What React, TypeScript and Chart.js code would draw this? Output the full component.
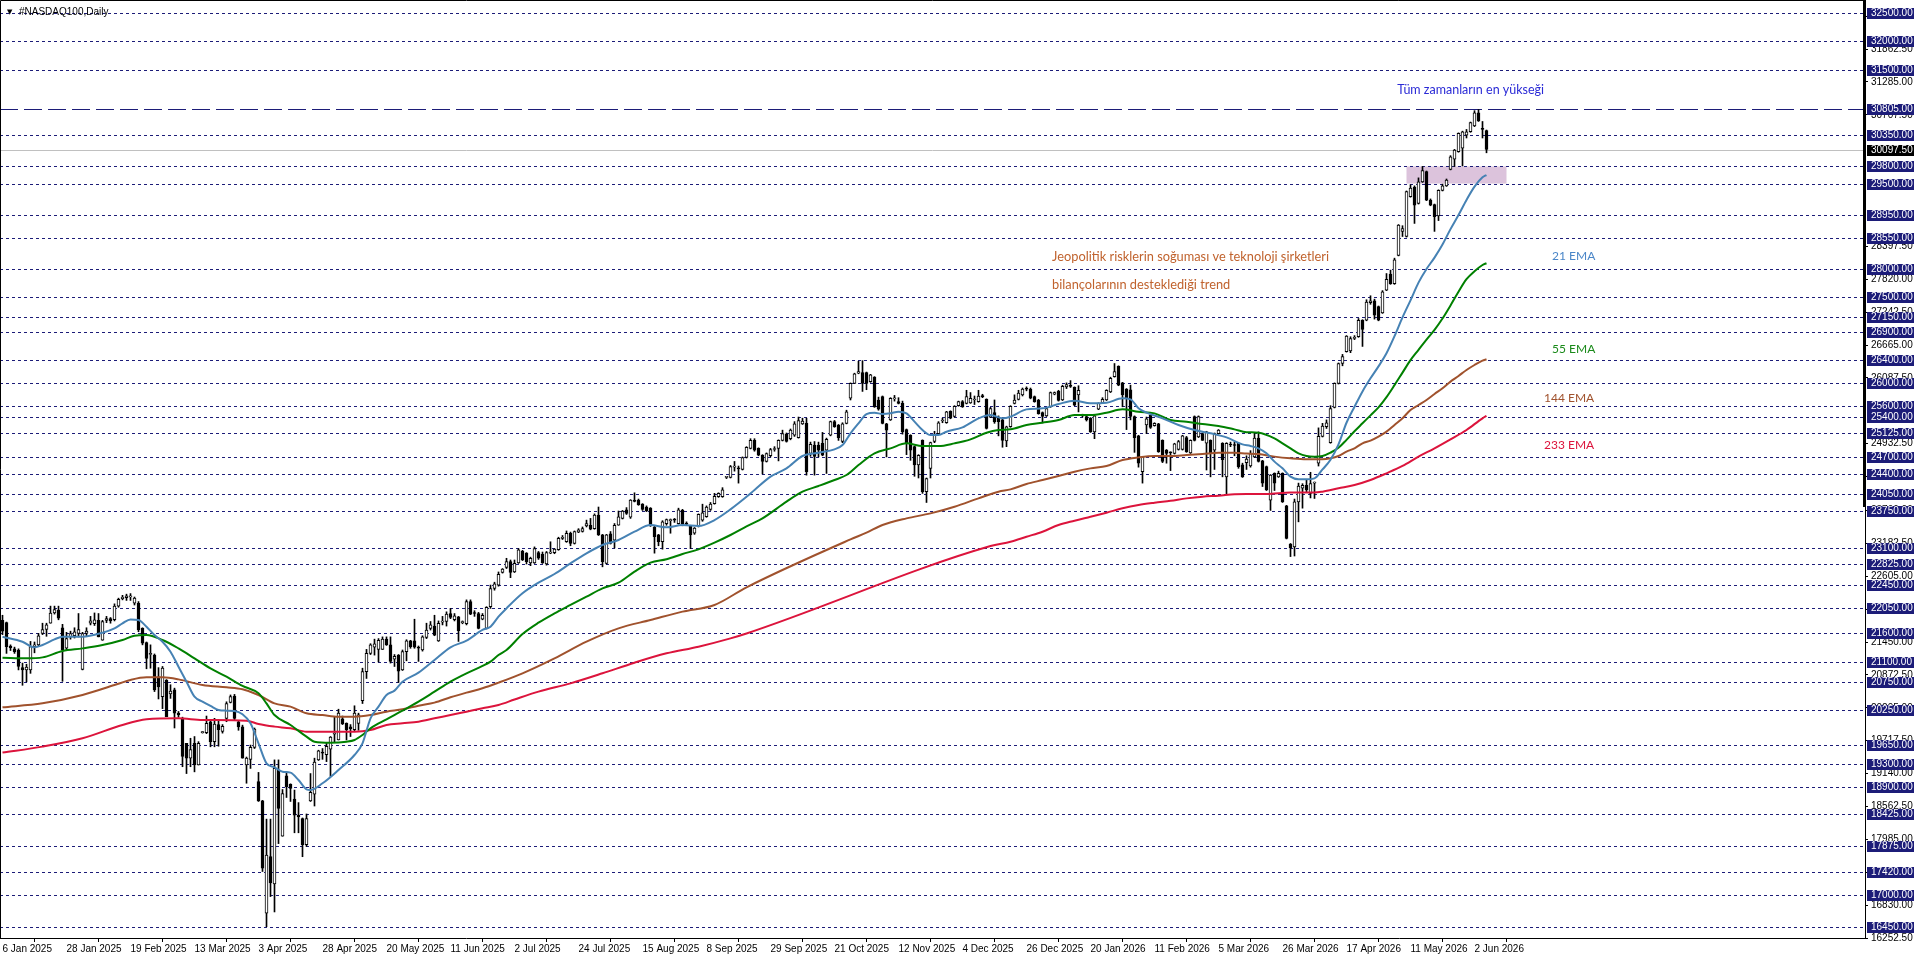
import React, { useEffect, useRef } from "react";
import { Chart, registerables } from "chart.js";

Chart.register(...registerables);

// ---------------- data ----------------
const dateLabels = [
  "6 Jan 2025", "28 Jan 2025", "19 Feb 2025", "13 Mar 2025", "3 Apr 2025", "28 Apr 2025",
  "20 May 2025", "11 Jun 2025", "2 Jul 2025", "24 Jul 2025", "15 Aug 2025", "8 Sep 2025",
  "29 Sep 2025", "21 Oct 2025", "12 Nov 2025", "4 Dec 2025", "26 Dec 2025", "20 Jan 2026",
  "11 Feb 2026", "5 Mar 2026", "26 Mar 2026", "17 Apr 2026", "11 May 2026", "2 Jun 2026",
];
const dateLabelBars = [0, 16, 32, 48, 64, 80, 96, 112, 128, 144, 160, 176, 192, 208, 224, 240, 256, 272, 288, 304, 320, 336, 352, 368];

const priceTicks = [
  16252.5, 16830, 17407.5, 17985, 18562.5, 19140, 19717.5, 20295, 20872.5, 21450, 22027.5,
  22605, 23182.5, 23760, 24355, 24932.5, 26087.5, 26665, 27242.5, 27820, 28397.5,
  30707.5, 31285, 31862.5, 32440,
];

const levels = [
  32500, 32000, 31500, 30350, 29800, 29500, 28950, 28550, 28000, 27500, 27150, 26900, 26400,
  26000, 25600, 25400, 25125, 24700, 24400, 24050, 23750, 23100, 22825, 22450, 22050, 21600,
  21100, 20750, 20250, 19650, 19300, 18900, 18425, 17875, 17420, 17000, 16450,
];
const athLevel = 30805;
const currentPrice = 30097.5;
const zoneBars = [351, 376];
const zonePrices = [29500, 29800];

const opens = [
  21830,21790,21380,21330,21310,21000,20960,20960,21370,21400,
  21600,21670,21780,21960,22010,21700,21340,21540,21560,21600,
  20970,21600,21780,21770,21830,21480,21830,21860,21840,22080,
  22210,22230,22240,22130,22130,21690,21440,21230,21220,20840,
  20490,20780,20540,20610,20200,20110,19670,19410,19670,19290,
  19860,19860,20050,19700,20000,19880,20110,20390,20500,20050,
  19960,19290,19390,19600,19000,18660,16690,17680,17200,19200,
  18040,19100,18950,18690,18410,18350,17890,18660,18780,19380,
  19510,19470,19570,19830,19730,20100,20020,19960,19910,20020,
  20420,20930,21250,21360,21320,21320,21500,21400,21150,21220,
  20960,21280,21470,21470,21360,21310,21530,21690,21730,21470,
  21800,21810,21950,21840,21890,21790,21770,22160,21960,21950,
  21850,21690,22070,22390,22450,22670,22760,22860,22680,22840,
  23040,23010,22840,22840,23020,22990,22820,23010,23020,23070,
  23270,23210,23360,23180,23380,23390,23490,23500,23440,23680,
  23330,22830,23350,23240,23500,23620,23770,23640,23940,23940,
  23870,23820,23800,23470,23330,23210,23530,23580,23610,23530,
  23760,23530,23490,23360,23490,23590,23650,23780,23880,24000,
  24000,24340,24340,24520,24500,24480,24690,24850,24990,24850,
  24730,24620,24720,24830,24850,24990,25100,25020,25080,25040,
  25280,25290,24760,24910,24910,24940,24820,25080,25320,25260,
  24970,25290,25730,25990,26170,26180,26180,26020,26100,25700,
  25760,25280,25350,25720,25670,25640,25180,25080,24880,24560,
  24990,24090,24500,24970,25110,25330,25300,25500,25410,25600,
  25670,25640,25650,25700,25670,25770,25710,25400,25480,25400,
  25350,24980,25230,25640,25710,25790,25900,25890,25760,25700,
  25480,25420,25580,25800,25850,25700,25930,25950,25920,25790,
  25420,25410,25380,25140,25540,25650,25700,25840,26110,26290,
  26000,25890,25880,25410,25070,24440,25260,25430,25250,25280,
  24990,24820,24780,24760,24830,24830,25040,24770,25410,25050,
  25110,24940,24990,24820,25110,24940,24350,24920,24910,24940,
  24560,24600,24540,24700,25030,24630,24530,23940,24410,24350,
  24410,23840,23170,23120,23910,24150,24200,24060,24240,24590,
  25060,25230,24950,25570,25990,26340,26550,26560,26780,26810,
  27100,27100,27410,27440,27340,27230,27630,27910,27740,28240,
  28660,28570,29270,29440,29150,29530,29710,29210,29130,28930,
  29380,29460,29750,29930,30060,30120,30350,30410,30510,30740,
  30470,30430,
];
const highs = [
  21920,21800,21400,21360,21330,21080,21060,21460,21450,21600,
  21780,21780,22080,22080,22080,21760,21620,21640,21700,21950,
  21620,21700,21900,21960,21950,21830,21900,21880,22120,22220,
  22270,22290,22300,22240,22160,21700,21450,21400,21240,21000,
  21020,20790,20700,20640,20230,20130,19670,19760,19790,19700,
  19880,20150,20080,20110,20090,20000,20400,20520,20530,20060,
  19990,19430,19640,19940,19160,18670,18340,18340,19380,19380,
  18860,19170,18960,18850,18630,18360,18430,19140,19410,19550,
  19580,19670,19790,20140,20270,20150,20030,20000,20330,20200,
  20990,21320,21420,21500,21510,21540,21540,21540,21230,21230,
  21310,21490,21480,21850,21380,21560,21780,21810,21920,21820,
  21900,21980,22040,21950,21900,21820,22190,22190,22000,21970,
  21950,22070,22450,22500,22680,22740,22920,22890,22890,23090,
  23060,23020,22940,23120,23040,23030,23040,23210,23090,23290,
  23320,23400,23380,23400,23440,23470,23590,23620,23700,23820,
  23340,23340,23390,23530,23750,23760,23810,23950,24070,23960,
  23880,23840,23810,23480,23340,23580,23610,23610,23620,23800,
  23780,23560,23500,23460,23700,23870,23840,23900,24060,24070,
  24160,24350,24550,24620,24540,24700,24880,25020,25020,24860,
  24740,24770,24850,24880,25000,25170,25120,25190,25320,25400,
  25380,25380,24960,24970,24960,25130,25030,25330,25340,25270,
  25300,25520,26000,26170,26380,26390,26190,26150,26110,25750,
  25770,25290,25740,25780,25740,25680,25190,25090,24890,24740,
  25000,24330,24960,25150,25320,25380,25500,25510,25600,25680,
  25690,25870,25830,25770,25870,25800,25720,25570,25700,25420,
  25380,25240,25600,25790,25870,25910,25930,25910,25770,25710,
  25490,25560,25840,25840,25870,25960,26000,26040,25930,25950,
  25450,25420,25390,25430,25650,25740,25880,26100,26340,26300,
  26010,25900,25960,25420,25080,24710,25400,25440,25300,25290,
  25000,24830,24790,24940,24990,25080,25060,25000,25420,25420,
  25120,25150,25000,25120,25180,24950,24950,24960,24960,24950,
  24590,24720,24810,25130,25140,24640,24540,24390,24420,24450,
  24420,23850,23180,23960,24240,24230,24300,24430,24260,25210,
  25290,25350,25600,26000,26350,26500,26830,26810,26830,27130,
  27110,27460,27530,27470,27350,27620,27920,27980,28190,28780,
  28760,29370,29480,29460,29600,29800,29720,29230,29140,29390,
  29490,29580,29990,30100,30390,30420,30450,30580,30780,30800,
  30590,30440,
];
const lows = [
  21580,21250,21300,21250,20960,20690,20750,20900,21260,21380,
  21580,21550,21780,21940,21840,20760,21310,21500,21520,21540,
  20960,21560,21750,21740,21540,21480,21790,21780,21820,22060,
  22190,22180,22180,22100,21630,21400,20980,20990,20580,20450,
  20280,20140,20460,19940,20130,19260,19140,19260,19170,19290,
  19850,19840,19610,19610,19620,19850,20050,20380,20080,19900,
  19410,18970,19230,19580,18650,17420,16450,16980,16710,17910,
  18040,18720,18650,18100,18100,17680,17860,18650,18570,19370,
  19390,19350,19090,19700,19730,20000,19730,19790,19880,19900,
  20370,20810,21230,21220,21100,21320,21390,21080,21020,20740,
  20950,21120,21340,21340,21110,21290,21510,21660,21560,21460,
  21750,21730,21860,21820,21460,21770,21750,21930,21900,21680,
  21840,21680,22040,22360,22430,22660,22740,22580,22670,22830,
  22880,22820,22790,22830,22900,22830,22800,23000,23000,23060,
  23250,23200,23140,23170,23370,23380,23470,23420,23430,23320,
  22770,22820,23170,23100,23500,23610,23690,23620,23910,23850,
  23760,23740,23480,23010,23140,23080,23500,23360,23550,23520,
  23490,23500,23090,23340,23470,23570,23640,23760,23870,23990,
  23990,24320,24330,24450,24240,24470,24680,24840,24800,24720,
  24400,24610,24700,24800,24630,24980,24960,25000,25060,25030,
  25270,24380,24710,24380,24700,24720,24410,25070,25220,24990,
  24950,25280,25700,25990,26160,25850,25880,26010,25570,25520,
  25280,24700,25340,25680,25630,25100,24740,24640,24360,24330,
  24060,23900,24330,24950,25100,25300,25290,25370,25400,25590,
  25570,25630,25640,25620,25660,25740,25190,25390,25290,25070,
  24870,24880,25220,25630,25700,25770,25860,25720,25660,25450,
  25300,25410,25570,25790,25680,25690,25900,25920,25600,25490,
  25400,25330,25130,25020,25530,25640,25690,25830,26100,25950,
  25580,25180,25350,24780,24520,24240,25110,25200,25240,24780,
  24600,24590,24460,24750,24820,24820,24780,24760,24980,25040,
  24990,24470,24350,24480,25100,24350,24040,24880,24720,24500,
  24340,24480,24520,24690,24610,24180,24110,23760,24110,24340,
  23900,23260,22950,22960,23560,23800,24080,23980,23970,24540,
  25050,25200,24940,25560,25980,26300,26540,26530,26760,26800,
  26640,27090,27380,27120,27090,27220,27620,27730,27730,28230,
  28570,28560,29260,28800,29140,29520,29200,29110,28660,28850,
  29370,29450,29740,29800,30050,29810,30300,30400,30500,30590,
  30300,30040,
];
const closes = [
  21640,21370,21350,21280,21020,20960,21010,21370,21400,21560,
  21670,21750,21960,22020,21870,21310,21510,21600,21630,21670,
  21600,21640,21820,21840,21540,21810,21860,21820,22080,22200,
  22240,22260,22260,22220,21660,21430,21160,21250,20610,20660,
  20990,20140,20590,20200,20170,19440,19410,19560,19290,19670,
  19870,20020,19700,20010,19910,19970,20370,20490,20110,19960,
  19410,19410,19600,19920,18660,17480,17710,17220,19230,18530,
  18790,18910,18880,18410,18380,17890,18350,18810,19340,19540,
  19500,19620,19780,19840,20200,20010,19910,19930,20200,20170,
  20930,21250,21400,21420,21480,21500,21400,21110,21200,20940,
  21280,21470,21370,21360,21340,21540,21660,21750,21570,21780,
  21800,21940,21880,21910,21650,21800,22160,21940,21950,21690,
  21920,22060,22390,22470,22640,22730,22860,22670,22830,23070,
  22890,22860,22920,23090,22920,22840,23020,23020,23080,23270,
  23290,23360,23180,23390,23420,23440,23530,23430,23680,23330,
  22860,23330,23180,23500,23650,23750,23710,23940,23920,23860,
  23780,23750,23490,23300,23210,23560,23600,23600,23590,23770,
  23530,23520,23330,23450,23690,23720,23820,23870,24010,24060,
  24120,24340,24530,24540,24490,24690,24870,24990,24820,24730,
  24620,24760,24830,24840,24990,25110,24970,25170,25280,25340,
  25330,24440,24920,24710,24820,24730,25010,25320,25230,25040,
  25280,25490,25990,26160,26200,25990,25990,26140,25580,25540,
  25290,25170,25730,25730,25640,25140,24940,24820,24560,24730,
  24090,24320,24950,25090,25300,25340,25490,25380,25590,25670,
  25580,25760,25730,25700,25770,25760,25200,25550,25320,25320,
  24990,25230,25590,25700,25820,25890,25890,25730,25670,25460,
  25410,25550,25830,25830,25690,25940,25970,25940,25610,25870,
  25420,25350,25140,25420,25640,25710,25870,26080,26200,25960,
  25790,25730,25410,25040,24590,24700,25370,25220,25290,24790,
  24620,24760,24770,24930,24970,25070,24790,24990,24990,25410,
  24990,25140,24760,25110,25170,24650,24940,24910,24900,24530,
  24350,24660,24760,25030,24620,24240,24120,24380,24240,24410,
  23910,23270,23100,23910,24190,24200,24120,24230,24240,25060,
  25240,25300,25550,25990,26340,26460,26820,26780,26800,27100,
  26940,27420,27440,27190,27100,27600,27820,27740,28160,28770,
  28710,29360,29420,29120,29530,29730,29210,29120,28920,29380,
  29460,29560,29970,30090,30380,30410,30410,30570,30740,30600,
  30450,30097.5,
];

// EMA readings: [bar index, value]
const ema21: [number, number][] = [
  [0,21543],[5,21455],[8,21356],[10,21397],[13,21496],[15,21543],[20,21543],[25,21613],[28,21689],[30,21777],
  [32,21847],[34,21836],[36,21719],[38,21572],[40,21455],[42,21280],[44,21017],[46,20753],[48,20490],[50,20403],
  [52,20327],[54,20256],[56,20245],[58,20239],[60,20180],[62,20022],[64,19671],[66,19320],[68,19250],[70,19173],
  [72,19156],[74,19027],[76,18863],[77,18852],[80,18969],[84,19203],[88,19466],[90,19671],[92,20110],[94,20315],
  [96,20520],[98,20596],[100,20754],[104,20912],[108,21134],[112,21357],[116,21474],[120,21661],[122,21719],[124,21895],
  [126,22041],[130,22305],[134,22492],[138,22644],[142,22831],[146,23007],[150,23153],[154,23241],[158,23387],[162,23504],
  [166,23463],[170,23504],[174,23487],[178,23592],[182,23779],[186,24000],[188,24119],[192,24353],[196,24499],[200,24716],
  [204,24774],[208,24833],[210,24909],[212,25114],[214,25289],[216,25453],[218,25477],[220,25453],[222,25465],[224,25494],
  [226,25465],[228,25319],[230,25172],[232,25084],[234,25084],[236,25143],[240,25219],[244,25377],[247,25436],[250,25377],
  [252,25406],[256,25535],[260,25553],[264,25629],[268,25687],[272,25641],[276,25652],[280,25728],[282,25711],[284,25553],
  [286,25477],[290,25377],[294,25260],[298,25172],[302,25114],[306,25043],[310,24920],[312,24892],[314,24851],[316,24763],
  [318,24617],[320,24500],[322,24353],[324,24307],[326,24307],[328,24324],[330,24480],[332,24650],[334,24920],[336,25300],
  [338,25580],[340,25850],[342,26080],[344,26290],[346,26520],[348,26820],[350,27150],[352,27450],[354,27760],[356,28000],
  [358,28200],[360,28430],[362,28700],[364,28948],[366,29212],[368,29446],[370,29610],[371,29650],
];
const ema55: [number, number][] = [
  [0,21175],[6,21163],[10,21180],[15,21292],[20,21338],[25,21397],[30,21485],[33,21561],[36,21572],[40,21485],
  [44,21338],[48,21163],[52,20987],[56,20841],[60,20680],[64,20549],[66,20373],[68,20168],[72,19993],[76,19788],
  [78,19700],[82,19683],[86,19700],[88,19729],[90,19817],[92,19934],[96,20092],[100,20244],[104,20403],[108,20578],
  [112,20754],[116,20900],[120,21029],[122,21105],[124,21222],[126,21309],[130,21590],[134,21789],[138,21953],[142,22100],
  [146,22246],[150,22392],[154,22492],[158,22685],[162,22843],[166,22902],[170,22995],[174,23077],[178,23194],[182,23329],
  [186,23480],[190,23621],[196,23914],[200,24089],[204,24189],[208,24294],[211,24382],[214,24558],[218,24763],[222,24850],
  [226,24938],[230,24891],[234,24891],[238,24938],[242,25008],[246,25125],[249,25172],[252,25184],[256,25260],[260,25301],
  [264,25348],[268,25436],[272,25436],[276,25477],[280,25535],[284,25494],[288,25465],[292,25348],[296,25319],[300,25278],
  [304,25243],[308,25184],[311,25135],[314,25126],[318,25027],[320,24939],[322,24851],[324,24763],[326,24716],[328,24705],
  [330,24716],[332,24775],[334,24860],[336,25000],[338,25150],[340,25290],[342,25430],[344,25570],[346,25750],[348,25960],
  [350,26180],[352,26400],[354,26580],[356,26760],[358,26930],[360,27130],[362,27360],[364,27600],[366,27820],[368,27960],
  [370,28070],[371,28100],
];
const ema144: [number, number][] = [
  [0,20303],[10,20373],[20,20519],[28,20694],[32,20783],[36,20829],[40,20829],[44,20794],[50,20694],[56,20654],
  [60,20619],[64,20520],[68,20373],[72,20315],[76,20198],[80,20168],[84,20139],[88,20139],[92,20168],[96,20227],
  [100,20268],[104,20332],[108,20385],[112,20479],[116,20561],[120,20637],[124,20736],[130,20900],[138,21163],[146,21456],
  [154,21690],[162,21836],[170,21983],[178,22100],[186,22410],[212,23252],[216,23370],[220,23504],[226,23621],[232,23709],
  [238,23826],[244,23972],[249,24089],[252,24130],[256,24224],[260,24294],[264,24365],[268,24441],[272,24499],[276,24540],
  [280,24646],[284,24692],[288,24716],[292,24716],[296,24733],[300,24751],[304,24774],[308,24774],[311,24760],[314,24751],
  [318,24705],[322,24675],[326,24658],[330,24658],[332,24675],[334,24716],[336,24792],[338,24851],[340,24939],[342,24986],
  [344,25056],[346,25144],[348,25261],[350,25378],[352,25524],[354,25612],[356,25700],[358,25805],[360,25905],[362,26022],
  [364,26121],[366,26227],[368,26314],[370,26390],[371,26414],
];
const ema233: [number, number][] = [
  [0,19508],[10,19613],[20,19759],[30,19993],[36,20093],[44,20110],[50,20081],[61,20069],[64,20010],[68,19964],
  [72,19934],[76,19876],[80,19876],[88,19876],[92,19905],[96,19993],[100,20022],[104,20051],[108,20110],[112,20168],
  [116,20227],[120,20286],[124,20344],[128,20440],[134,20578],[142,20724],[150,20900],[158,21087],[166,21251],[174,21368],
  [182,21514],[186,21600],[247,23135],[252,23211],[256,23299],[260,23387],[264,23504],[268,23580],[272,23650],[276,23721],
  [280,23797],[284,23855],[288,23896],[292,23931],[296,23972],[300,24002],[304,24019],[308,24043],[311,24049],[316,24049],
  [322,24073],[328,24073],[330,24090],[334,24149],[338,24207],[342,24295],[346,24412],[350,24541],[354,24705],[358,24851],
  [362,25009],[366,25173],[370,25378],[371,25419],
];

const annotations = [
  { text: "Tüm zamanların en yükseği", bar: 348.7, price: 31150, color: "#2a2ad6", size: 12.5 },
  { text: "Jeopolitik risklerin soğuması ve teknoloji şirketleri", bar: 262.4, price: 28210, color: "#c0622d", size: 12.8 },
  { text: "bilançolarının desteklediği trend", bar: 262.4, price: 27720, color: "#c0622d", size: 12.8 },
  { text: "21 EMA", bar: 387.4, price: 28230, color: "#4a86c8", size: 12 },
  { text: "55 EMA", bar: 387.4, price: 26590, color: "#1a8a1a", size: 12 },
  { text: "144 EMA", bar: 385.4, price: 25740, color: "#a0522d", size: 12 },
  { text: "233 EMA", bar: 385.4, price: 24900, color: "#dc143c", size: 12 },
];

// ---------------- styling ----------------
const W = 1916;
const H = 963;
const LEVEL_COLOR = "#1c1c78";
const AXIS_FONT = "10px 'Liberation Sans', Arial, sans-serif";

const overlayPlugin = {
  id: "mtOverlay",
  beforeDatasetsDraw(chart: any) {
    const { ctx, chartArea: a, scales } = chart;
    const x = scales.x;
    const y = scales.y;
    ctx.save();
    ctx.beginPath();
    ctx.rect(a.left, a.top, a.right - a.left, a.bottom - a.top);
    ctx.clip();
    const zx1 = x.getPixelForValue(zoneBars[0]);
    const zx2 = x.getPixelForValue(zoneBars[1]);
    const zy1 = y.getPixelForValue(zonePrices[1]);
    const zy2 = y.getPixelForValue(zonePrices[0]);
    ctx.fillStyle = "#dcc3dc";
    ctx.fillRect(zx1, zy1, zx2 - zx1, zy2 - zy1);
    ctx.lineWidth = 1;
    ctx.strokeStyle = LEVEL_COLOR;
    ctx.setLineDash([3, 3]);
    for (const v of levels) {
      const py = Math.round(y.getPixelForValue(v)) + 0.5;
      ctx.beginPath();
      ctx.moveTo(a.left, py);
      ctx.lineTo(a.right, py);
      ctx.stroke();
    }
    ctx.setLineDash([18, 6]);
    {
      const py = Math.round(y.getPixelForValue(athLevel)) + 0.5;
      ctx.beginPath();
      ctx.moveTo(a.left, py);
      ctx.lineTo(a.right, py);
      ctx.stroke();
    }
    ctx.setLineDash([]);
    ctx.strokeStyle = "#c0c0c0";
    {
      const py = Math.round(y.getPixelForValue(currentPrice)) + 0.5;
      ctx.beginPath();
      ctx.moveTo(a.left, py);
      ctx.lineTo(a.right, py);
      ctx.stroke();
    }
    ctx.restore();
  },
  afterDatasetsDraw(chart: any) {
    const { ctx, scales } = chart;
    const x = scales.x;
    const y = scales.y;
    ctx.save();
    ctx.textBaseline = "middle";
    ctx.textAlign = "left";
    for (const n of annotations) {
      ctx.font = `${n.size}px Lato, 'Open Sans', sans-serif`;
      ctx.fillStyle = n.color;
      ctx.fillText(n.text, x.getPixelForValue(n.bar), y.getPixelForValue(n.price));
    }
    ctx.restore();
  },
  afterDraw(chart: any) {
    const { ctx, chartArea: a, scales } = chart;
    const y = scales.y;
    ctx.save();
    ctx.strokeStyle = "#000";
    ctx.lineWidth = 1;
    ctx.beginPath();
    ctx.moveTo(0.5, a.bottom);
    ctx.lineTo(0.5, 0.5);
    ctx.lineTo(a.right, 0.5);
    ctx.stroke();
    ctx.fillStyle = "#000";
    ctx.fillRect(a.right - 2, 0, 3, 507);
    ctx.font = AXIS_FONT;
    ctx.textBaseline = "middle";
    ctx.textAlign = "left";
    const boxX = a.right + 2;
    const drawBox = (v: number, bg: string) => {
      const py = Math.round(y.getPixelForValue(v));
      ctx.fillStyle = bg;
      ctx.fillRect(boxX, py - 5, 47, 11);
      ctx.fillStyle = "#fff";
      ctx.fillText(v.toFixed(2), boxX + 4, py + 0.5);
    };
    for (const v of levels) drawBox(v, LEVEL_COLOR);
    drawBox(athLevel, LEVEL_COLOR);
    drawBox(currentPrice, "#000");
    ctx.fillStyle = "#000";
    ctx.font = "7px 'DejaVu Sans', sans-serif";
    ctx.fillText("\u25BC", 7, 12);
    ctx.font = AXIS_FONT;
    ctx.fillText("#NASDAQ100,Daily", 19, 12);
    ctx.restore();
  },
};

export default function App() {
  const ref = useRef<HTMLCanvasElement | null>(null);

  useEffect(() => {
    const canvas = ref.current;
    if (!canvas) return;

    const wickData = highs.map((h, i) => ({ x: i, y: [lows[i], h] }));
    const bodyData = opens.map((o, i) => ({ x: i, y: [Math.min(o, closes[i]), Math.max(o, closes[i])] }));
    const bodyColors = opens.map((o, i) => (closes[i] >= o ? "#ffffff" : "#000000"));
    const toPts = (arr: [number, number][]) => arr.map(([b, v]) => ({ x: b, y: v }));

    const lineDs = (data: [number, number][], color: string) => ({
      type: "line" as const,
      data: toPts(data),
      borderColor: color,
      borderWidth: 2,
      pointRadius: 0,
      fill: false,
      cubicInterpolationMode: "monotone" as const,
      order: 0,
    });

    const chart = new Chart(canvas, {
      type: "bar",
      data: {
        datasets: [
          lineDs(ema21, "#4682b4"),
          lineDs(ema55, "#008000"),
          lineDs(ema144, "#a0522d"),
          lineDs(ema233, "#dc143c"),
          {
            type: "bar",
            data: bodyData as any,
            backgroundColor: bodyColors,
            borderColor: "#000",
            borderWidth: 1,
            borderSkipped: false,
            barThickness: 3,
            minBarLength: 1,
            grouped: false,
            order: 1,
          } as any,
          {
            type: "bar",
            data: wickData as any,
            backgroundColor: "#000",
            borderWidth: 0,
            barThickness: 1,
            grouped: false,
            order: 2,
          } as any,
        ],
      },
      options: {
        responsive: false,
        animation: false,
        devicePixelRatio: 1,
        layout: { padding: { left: 0, right: 0, top: 2, bottom: 0 } },
        plugins: {
          legend: { display: false },
          tooltip: { enabled: false },
        },
        scales: {
          x: {
            type: "linear",
            position: "bottom",
            min: -0.625,
            max: 465.625,
            offset: false,
            grid: { display: true, drawOnChartArea: false, drawTicks: true, tickLength: 4, color: "#000" },
            border: { display: true, color: "#000", width: 1 },
            ticks: {
              autoSkip: false,
              maxRotation: 0,
              minRotation: 0,
              align: "start",
              padding: 1,
              color: "#000",
              font: { family: "'Liberation Sans', Arial, sans-serif", size: 10 },
              callback: (_v: any, i: number) => dateLabels[i] ?? "",
            },
            afterBuildTicks: (s: any) => {
              s.ticks = dateLabelBars.map((v) => ({ value: v }));
            },
            afterFit: (s: any) => {
              s.height = 25;
              s.paddingLeft = 0;
              s.paddingRight = 0;
            },
          },
          y: {
            type: "linear",
            position: "right",
            min: 16252.5,
            max: 32688,
            grid: { display: true, drawOnChartArea: false, drawTicks: true, tickLength: 3, color: "#000" },
            border: { display: true, color: "#000", width: 1 },
            ticks: {
              autoSkip: false,
              padding: 3,
              color: "#000",
              font: { family: "'Liberation Sans', Arial, sans-serif", size: 10 },
              callback: (v: any) => Number(v).toFixed(2),
            },
            afterBuildTicks: (s: any) => {
              s.ticks = priceTicks.map((v) => ({ value: v }));
            },
            afterFit: (s: any) => {
              s.width = 51;
              s.paddingTop = 0;
              s.paddingBottom = 0;
            },
          },
        },
      } as any,
      plugins: [overlayPlugin],
    });

    return () => chart.destroy();
  }, []);

  return (
    <div style={{ position: "fixed", left: 0, top: 0, width: W, height: H, background: "#fff" }}>
      <canvas ref={ref} width={W} height={H} style={{ display: "block", width: W, height: H }} />
    </div>
  );
}
